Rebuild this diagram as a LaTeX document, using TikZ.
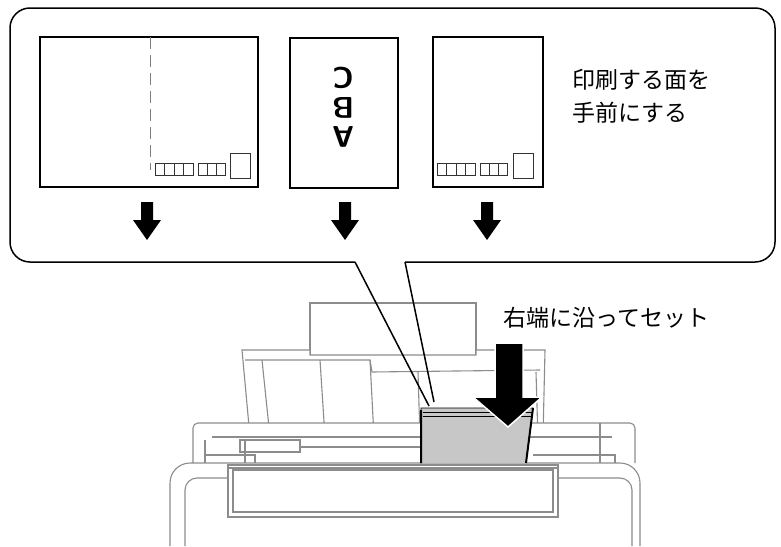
\documentclass[tikz,border=0pt]{standalone}
\usepackage{fontspec}
\newfontfamily\cjk{Noto Sans CJK JP}
\begin{document}
\begin{tikzpicture}[x=1pt,y=-1pt,
  card/.style={draw=black,line width=1.4pt},
  stampcell/.style={draw=black!80,line width=0.8pt},
  pr/.style={draw=black!45,line width=1.1pt},
  blk/.style={fill=black,draw=none},
  letter/.style={rotate=180,font=\sffamily\bfseries\fontsize{30}{30}\selectfont,inner sep=0pt},
  lbl/.style={font=\cjk\fontsize{23}{26}\selectfont,anchor=west,inner sep=0pt}]
\useasboundingbox (0,0) rectangle (781,546);
% printer (behind)
\draw[pr] (310,355) -- (310,303) -- (476,303) -- (476,355);
\draw[pr,fill=white] (250,437) -- (242,350) -- (310,350) -- (310,355) -- (476,355) -- (476,350) -- (545,350) -- (543,437);
\draw[pr] (245,360) -- (370,360) -- (372,372) -- (540,370);
\draw[pr] (262,360) -- (270,437);
\draw[pr] (320,360) -- (325,437);
\draw[pr] (370,360) -- (374,437);
\draw[pr] (418,372) -- (420,437);
\draw[pr] (536,372) -- (538,440);
\draw[pr,fill=white] (193,463) -- (193,428) arc(180:270:5) -- (630,423) arc(270:360:5) -- (635,463);
\draw[pr] (205,440) -- (205,463);
\draw[pr] (212,437) -- (612,437);
\draw[pr] (600,423) -- (600,463);
\draw[pr] (205,455) -- (255,455) -- (255,463);
\draw[pr] (240,440) -- (300,440) -- (300,452) -- (240,452) -- cycle;
\draw[pr] (245,440) -- (245,463);
\draw[pr] (300,447) -- (420,447);
\draw[pr] (533,455) -- (615,455) -- (615,463);
\draw[pr] (170,546) -- (170,483) arc(180:270:20) -- (620,463) arc(270:360:20) -- (640,546);
\draw[pr] (185,546) -- (185,490) arc(180:270:12) -- (620,478) arc(270:360:12) -- (632,546);
\draw[pr,fill=white] (228,465) rectangle (558,517);
\draw[pr] (233,470) rectangle (553,512);
\draw[pr] (228,468) -- (558,468);
% paper stack
\draw[fill=black!22,draw=black,line width=0.8pt] (421,463) -- (421,408) -- (533,408) -- (526,463);
\draw[black,line width=0.8pt] (423,412) -- (533,412) (423,416) -- (532,416);
\draw[black,line width=2pt] (421,410) -- (421,463) (533,408) -- (526,463);
% big arrow
\draw[blk,draw=white,line width=1.5pt] (495,343) -- (523,343) -- (523,397) -- (542,397) -- (508,427) -- (473,397) -- (495,397) -- cycle;
% callout
\draw[black,line width=1.5pt,fill=white] (355,262) -- (30,262) arc(90:180:20) -- (10,28) arc(180:270:20) -- (755,8) arc(270:360:20) -- (775,242) arc(0:90:20) -- (405,262);
\draw[black,line width=1.5pt] (355,262) -- (429,406) (405,262) -- (434,402);
% cards
\draw[card] (40,37) rectangle (258,187);
\draw[black!50,line width=0.8pt,dash pattern=on 12pt off 6pt] (150,37) -- (150,170);
\foreach \xo in {155,437}{
  \draw[stampcell] (\xo,163) rectangle ++(38,12);
  \foreach \i in {1,2,3} \draw[stampcell] ({\xo+9.5*\i},163) -- ++(0,12);
  \draw[stampcell] ({\xo+43},163) rectangle ++(27,12);
  \foreach \i in {1,2} \draw[stampcell] ({\xo+43+9*\i},163) -- ++(0,12);
}
\draw[stampcell] (230,153) rectangle (250,178);
\draw[stampcell] (513,153) rectangle (533,178);
\draw[card] (290,38) rectangle (398,188);
\node[letter] (lc) at (343,78) {C};
\node[letter] (lb) at (343,107.5) {B};
\node[letter] (la) at (343,137) {A};
\draw[card] (433,37) rectangle (543,187);
% small arrows
\foreach \ax in {147,345,487}
  \fill (\ax-6,202) -- (\ax+6,202) -- (\ax+6,220) -- (\ax+14,220) -- (\ax,240) -- (\ax-14,220) -- (\ax-6,220) -- cycle;
% labels
\node[lbl] (t1) at (572,80) {印刷する面を};
\node[lbl] (t2) at (572,113) {手前にする};
\node[lbl] (t3) at (503,318) {右端に沿ってセット};
\end{tikzpicture}
\end{document}
